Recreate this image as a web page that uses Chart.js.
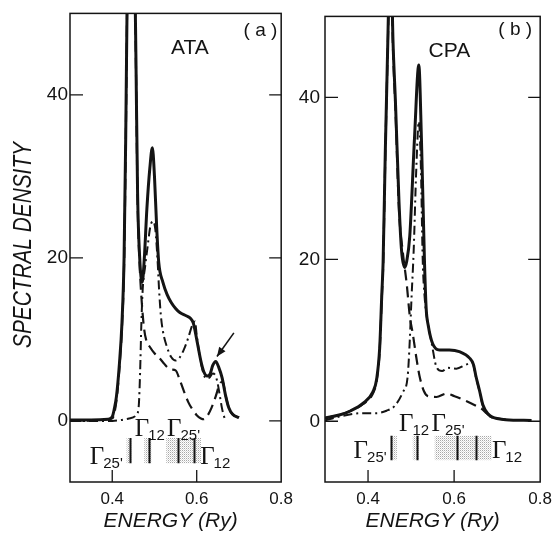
<!DOCTYPE html>
<html>
<head>
<meta charset="utf-8">
<script src="https://cdn.jsdelivr.net/npm/chart.js@4.4.0/dist/chart.umd.min.js"></script>
<style>
  body { margin: 0; background: #fff; width: 559px; height: 535px; position: relative; overflow: hidden; }
  canvas { position: absolute; top: 0; }
  #ata { left: 0; }
  #cpa { left: 284px; }
</style>
</head>
<body>
<canvas id="ata" width="300" height="535"></canvas>
<canvas id="cpa" width="275" height="535"></canvas>
<script>
// energy (Ry), spectral density
const xTicks = [0.4, 0.6, 0.8];
const yTicks = [0, 20, 40];

// panel (a) ATA
const solidA = [[0.30,0.1],[0.35,0.1],[0.39,0.2],[0.40,0.5],[0.405,1.5],[0.41,3],[0.417,7],[0.423,12],[0.428,20],[0.432,35],[0.436,55],[0.445,75],[0.452,60],[0.456,45],[0.46,28],[0.465,20],[0.471,17],[0.476,20],[0.482,26],[0.489,31],[0.495,33.5],[0.50,30],[0.505,24],[0.51,19.5],[0.52,17],[0.53,15.5],[0.54,14.5],[0.55,13.8],[0.56,13.3],[0.575,12.9],[0.585,12.6],[0.592,12],[0.60,10],[0.61,7.3],[0.617,6],[0.625,5.5],[0.632,5.8],[0.638,6.8],[0.645,7.3],[0.652,6.6],[0.66,5.3],[0.668,3.2],[0.676,1.6],[0.685,0.8],[0.70,0.4]];
const dashedA = [[0.30,0],[0.40,0.3],[0.41,2.5],[0.417,6.5],[0.423,11.5],[0.428,19],[0.432,34],[0.436,54],[0.445,74],[0.452,59],[0.456,44],[0.46,27],[0.465,19],[0.47,14.5],[0.475,11.5],[0.48,10],[0.49,9],[0.50,8.3],[0.51,7.8],[0.52,7.2],[0.53,6.6],[0.54,6.3],[0.55,6.2],[0.56,5],[0.57,3.6],[0.58,2.3],[0.59,1.4],[0.60,0.7],[0.61,0.3],[0.617,0.2],[0.625,0.6],[0.635,1.6],[0.645,3],[0.655,4.6],[0.662,4.8],[0.668,3.2],[0.676,1.6],[0.685,0.8],[0.70,0.4]];
const dashdotA = [[0.30,0],[0.40,0],[0.44,0.3],[0.458,0.8],[0.463,2],[0.466,6],[0.469,12],[0.472,16],[0.478,19],[0.484,21.5],[0.49,23.8],[0.496,24.5],[0.502,23.5],[0.507,20],[0.511,16],[0.515,13],[0.52,11],[0.53,9],[0.54,7.8],[0.55,7.4],[0.56,7.8],[0.57,8.8],[0.58,10.2],[0.59,11.8],[0.596,12.2],[0.60,10.5],[0.607,8],[0.615,6],[0.622,5.2],[0.63,5.3],[0.638,5.8],[0.645,5.5],[0.65,4.5],[0.655,3],[0.66,1.5],[0.665,0.5],[0.67,0]];
const levelsA = [0.441, 0.488, 0.556, 0.593];
const shadesA = [[0.434,0.446],[0.476,0.493],[0.528,0.61]];

// panel (b) CPA
const solidB = [[0.30,0.4],[0.335,0.8],[0.36,1.3],[0.388,2.2],[0.411,3.6],[0.42,5.2],[0.427,9],[0.432,15.7],[0.435,19.6],[0.440,33],[0.446,47],[0.452,60],[0.458,47],[0.464,39],[0.472,27],[0.478,21],[0.485,19],[0.49,19.8],[0.497,22.9],[0.508,35],[0.518,44],[0.524,35],[0.531,20],[0.535,14],[0.54,11.8],[0.55,9.6],[0.566,8.8],[0.589,8.8],[0.612,8.6],[0.636,7.8],[0.645,7],[0.651,5.5],[0.659,3.8],[0.667,2],[0.679,0.9],[0.689,0.5],[0.72,0.2],[0.78,0.1]];
const dashedB = [[0.30,0.4],[0.335,0.8],[0.36,1.3],[0.388,2.1],[0.411,3.4],[0.42,5],[0.427,8.7],[0.432,15.2],[0.435,19],[0.440,32.5],[0.446,46.5],[0.452,59],[0.458,46],[0.464,38],[0.472,26],[0.481,20.8],[0.49,16.9],[0.497,13],[0.504,10.8],[0.513,7.6],[0.52,5.5],[0.53,3.7],[0.539,3.1],[0.559,3],[0.582,3.4],[0.601,3.1],[0.628,2.5],[0.651,1.9],[0.665,1.5],[0.675,1],[0.69,0.5],[0.72,0.2]];
const dashdotB = [[0.30,0.1],[0.335,0.6],[0.388,1],[0.42,1],[0.443,1.3],[0.462,1.9],[0.481,3.6],[0.492,5.5],[0.497,10],[0.501,15.2],[0.506,21],[0.512,31],[0.518,37],[0.523,31],[0.527,20],[0.532,15],[0.538,12.4],[0.548,9.6],[0.559,6.7],[0.572,6.2],[0.585,6.6],[0.605,6.5],[0.628,7],[0.642,7.2],[0.651,5.4],[0.659,3.7],[0.667,1.9],[0.679,0.8],[0.69,0.4]];
const levelsB = [0.453, 0.513, 0.606, 0.652];
const shadesB = [[0.453,0.467],[0.504,0.518],[0.555,0.687]];

const INK = '#141414';
const SANS = '"Liberation Sans", Arial, sans-serif';
const SERIF = '"Liberation Serif", "Times New Roman", serif';

const pts = arr => arr.map(p => ({ x: p[0], y: p[1] }));

// fine dot screen for the shaded bands
function stipple(ctx) {
  const c = document.createElement('canvas');
  c.width = 2; c.height = 2;
  const g = c.getContext('2d');
  g.fillStyle = '#a8a8a8';
  g.fillRect(0, 0, 1, 1);
  g.fillStyle = '#dcdcdc';
  g.fillRect(1, 1, 1, 1);
  return ctx.createPattern(c, 'repeat');
}

function gamma(ctx, cx, cy, sub) {
  ctx.font = '25px ' + SERIF;
  const wG = ctx.measureText('\u0393').width;
  ctx.font = '15px ' + SANS;
  const wS = ctx.measureText(sub).width;
  const x0 = cx - (wG + wS) / 2;
  ctx.textBaseline = 'alphabetic';
  ctx.textAlign = 'left';
  ctx.font = '25px ' + SERIF;
  ctx.fillText('\u0393', x0, cy + 8);
  ctx.font = '15px ' + SANS;
  ctx.fillText(sub, x0 + wG - 1, cy + 12);
}

const deco = {
  id: 'deco',
  afterDraw(chart, args, o) {
    const { ctx, chartArea: a, scales: { x, y } } = chart;
    ctx.save();
    ctx.strokeStyle = INK;
    ctx.fillStyle = INK;

    // frame
    ctx.lineWidth = 1.5;
    ctx.strokeRect(a.left, a.top, a.right - a.left, a.bottom - a.top);

    // inward ticks
    ctx.lineWidth = 1.3;
    ctx.beginPath();
    yTicks.forEach(v => {
      const py = y.getPixelForValue(v);
      ctx.moveTo(a.left, py); ctx.lineTo(a.left + 13, py);
      ctx.moveTo(a.right, py); ctx.lineTo(a.right - 12, py);
    });
    xTicks.forEach(v => {
      const px = x.getPixelForValue(v);
      if (px < a.right - 2) { ctx.moveTo(px, a.bottom); ctx.lineTo(px, a.bottom - 12); }
    });
    ctx.stroke();

    // shaded bands and level lines
    const yt = y.getPixelForValue(o.band[0]), yb = y.getPixelForValue(o.band[1]);
    ctx.fillStyle = stipple(ctx);
    o.shades.forEach(s => {
      const l = x.getPixelForValue(s[0]), r = x.getPixelForValue(s[1]);
      ctx.fillRect(l, yt, r - l, yb - yt);
    });
    ctx.fillStyle = INK;
    ctx.lineWidth = 2;
    ctx.beginPath();
    o.levels.forEach(e => {
      const px = Math.round(x.getPixelForValue(e)) + 0.5;
      ctx.moveTo(px, yt); ctx.lineTo(px, yb);
    });
    ctx.stroke();

    // Gamma labels
    o.gammas.forEach(g => gamma(ctx, x.getPixelForValue(g[0]), y.getPixelForValue(g[1]), g[2]));

    // panel labels
    ctx.textAlign = 'center';
    ctx.textBaseline = 'middle';
    ctx.font = '21px ' + SANS;
    ctx.fillText(o.name, x.getPixelForValue(o.namePos[0]), y.getPixelForValue(o.namePos[1]));
    ctx.font = '19px ' + SANS;
    ctx.fillText(o.tag, x.getPixelForValue(o.tagPos[0]), y.getPixelForValue(o.tagPos[1]));

    // axis titles
    ctx.font = 'italic 21px ' + SANS;
    ctx.fillText('ENERGY (Ry)', (a.left + a.right) / 2 + o.titleShift, 521, 152);
    if (o.yTitle) {
      ctx.save();
      ctx.translate(24, 245);
      ctx.rotate(-Math.PI / 2);
      ctx.font = 'italic 25px ' + SANS;
      ctx.fillText('SPECTRAL DENSITY', 0, 0, 206);
      ctx.restore();
    }

    // arrow
    if (o.arrow) {
      const x1 = x.getPixelForValue(o.arrow[0]), y1 = y.getPixelForValue(o.arrow[1]);
      const x2 = x.getPixelForValue(o.arrow[2]), y2 = y.getPixelForValue(o.arrow[3]);
      const ang = Math.atan2(y2 - y1, x2 - x1);
      ctx.lineWidth = 1.6;
      ctx.beginPath(); ctx.moveTo(x1, y1); ctx.lineTo(x2, y2); ctx.stroke();
      ctx.beginPath();
      ctx.moveTo(x2, y2);
      ctx.lineTo(x2 - 10 * Math.cos(ang - 0.4), y2 - 10 * Math.sin(ang - 0.4));
      ctx.lineTo(x2 - 10 * Math.cos(ang + 0.4), y2 - 10 * Math.sin(ang + 0.4));
      ctx.closePath(); ctx.fill();
    }
    ctx.restore();
  }
};

function panel(id, solid, dashed, dashdot, yWidth, yPad, padRight, d) {
  return new Chart(document.getElementById(id), {
    type: 'line',
    data: {
      datasets: [
        { data: pts(dashdot), borderColor: INK, borderWidth: 2, borderDash: [9, 4, 2, 4] },
        { data: pts(dashed), borderColor: INK, borderWidth: 2.2, borderDash: [11, 6] },
        { data: pts(solid), borderColor: INK, borderWidth: 3 }
      ]
    },
    options: {
      responsive: false,
      animation: false,
      devicePixelRatio: 1,
      layout: { padding: { top: 7, right: padRight, left: 0, bottom: 0 } },
      elements: {
        point: { radius: 0 },
        line: { cubicInterpolationMode: 'monotone', fill: false, borderCapStyle: 'butt' }
      },
      datasets: { line: { clip: 0 } },
      plugins: { legend: { display: false }, tooltip: { enabled: false }, deco: d },
      scales: {
        x: {
          type: 'linear', min: 0.3, max: 0.8,
          grid: { display: false, drawTicks: false },
          border: { display: false },
          afterBuildTicks: s => { s.ticks = xTicks.map(v => ({ value: v })); },
          afterFit: s => { s.height = 53; },
          ticks: { padding: 7, color: INK, maxRotation: 0, font: { family: SANS, size: 17 },
                   callback: v => v.toFixed(1) }
        },
        y: {
          type: 'linear', min: -7.5, max: 50,
          grid: { display: false, drawTicks: false },
          border: { display: false },
          afterBuildTicks: s => { s.ticks = yTicks.map(v => ({ value: v })); },
          afterFit: s => { s.width = yWidth; },
          ticks: { padding: yPad, color: INK, font: { family: SANS, size: 19 },
                   callback: v => String(v) }
        }
      }
    },
    plugins: [deco]
  });
}

panel('ata', solidA, dashedA, dashdotA, 70, 2, 17, {
  levels: levelsA, shades: shadesA, band: [-2.1, -5.2],
  gammas: [[0.490, -0.9, '12'], [0.570, -0.9, "25'"], [0.387, -4.3, "25'"], [0.645, -4.3, '12']],
  name: 'ATA', namePos: [0.584, 45.7], tag: '( a )', tagPos: [0.751, 47.9],
  titleShift: -5, yTitle: true, arrow: [0.688, 10.8, 0.648, 7.9]
});
panel('cpa', solidB, dashedB, dashdotB, 41, 5, 18, {
  levels: levelsB, shades: shadesB, band: [-1.8, -4.8],
  gammas: [[0.508, -0.2, '12'], [0.587, -0.2, "25'"], [0.406, -3.5, "25'"], [0.724, -3.5, '12']],
  name: 'CPA', namePos: [0.589, 45.7], tag: '( b )', tagPos: [0.742, 48.3],
  titleShift: 0, yTitle: false, arrow: null
});
</script>
</body>
</html>
